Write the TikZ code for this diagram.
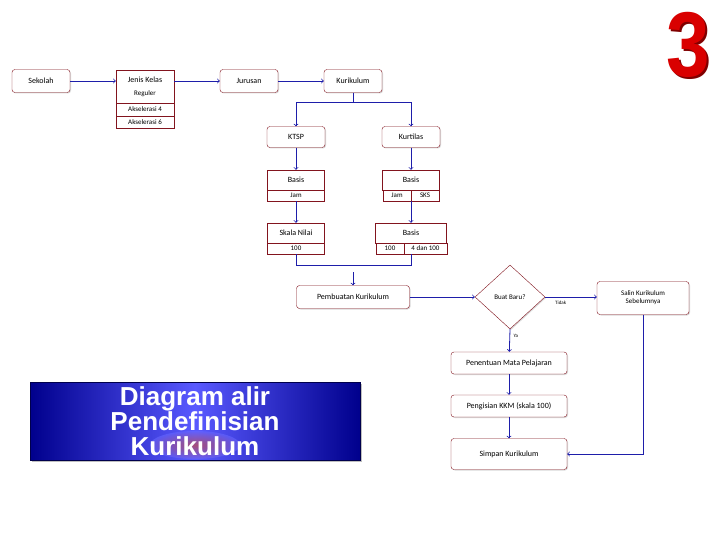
\documentclass[tikz,border=0pt]{standalone}
\usepackage{fontspec}
\setmainfont{Carlito}
\newfontfamily\headfont{Liberation Sans}
\usepackage{tikz}
\usetikzlibrary{shapes.geometric,shadows}
\definecolor{boxred}{RGB}{130,20,30}
\definecolor{flowblue}{RGB}{30,30,170}
\tikzset{flowbox/.style={draw=boxred, fill=white, rounded corners=3pt, minimum width=58pt, minimum height=23pt, inner sep=1pt, font=\footnotesize, drop shadow={shadow xshift=1pt, shadow yshift=-1pt, opacity=0.3}}}
\tikzset{cell/.style={draw=boxred, fill=white, inner sep=0pt, font=\scriptsize}}
\tikzset{flow/.style={draw=flowblue, thick, ->}}
\begin{document}
\begin{tikzpicture}[x=1pt, y=-1pt]
  \useasboundingbox (0,0) rectangle (720,540);

  % title
  \node[draw=blue!30!black, minimum width=330pt, minimum height=78pt, shading=axis, left color=blue!55!black, right color=blue!55!black, middle color=blue!65!white, drop shadow] at (195,421) (titlebox) {};
  \shade[inner color=red!45!brown, outer color=blue!60!white, opacity=0.6] (195,445) ellipse (45pt and 14pt);
  \node[text=white, font=\headfont\bfseries\fontsize{26}{25}\selectfont, align=center] at (195,421) (title) {Diagram alir\\Pendefinisian\\Kurikulum};
  \node[text=red!50!black, font=\headfont\bfseries\fontsize{92}{92}\selectfont, xscale=0.85] at (690,47) (numshadow) {3};
  \node[text=red!85!black, font=\headfont\bfseries\fontsize{92}{92}\selectfont, xscale=0.85] at (688,45) (num) {3};

  % top row
  \node[flowbox] at (41,81) (sekolah) {Sekolah};
  \node[cell, minimum width=58pt, minimum height=33pt, align=center, rounded corners=0pt] at (145,86.5) (jenis) {\footnotesize Jenis Kelas\\[5pt]Reguler};
  \node[cell, minimum width=58pt, minimum height=13pt] at (145,109.5) (aksel4) {Akselerasi 4};
  \node[cell, minimum width=58pt, minimum height=12pt] at (145,122) (aksel6) {Akselerasi 6};
  \node[flowbox] at (249,81) (jurusan) {Jurusan};
  \node[flowbox] at (353,81) (kurikulum) {Kurikulum};
  \draw[flow] (sekolah) -- (jenis.west |- sekolah);
  \draw[flow] (jenis.east |- sekolah) -- (jurusan);
  \draw[flow] (jurusan) -- (kurikulum);

  % KTSP branch
  \node[flowbox, minimum height=21pt] at (296,137) (ktsp) {KTSP};
  \node[cell, minimum width=57pt, minimum height=20pt] at (296,180) (basisA) {\footnotesize Basis};
  \node[cell, minimum width=57pt, minimum height=11pt] at (296,195.5) (jamA) {Jam};
  \node[cell, minimum width=57pt, minimum height=20pt] at (296,233) (skala) {\footnotesize Skala Nilai};
  \node[cell, minimum width=57pt, minimum height=11pt] at (296,248.5) (nilaiA) {100};

  % Kurtilas branch
  \node[flowbox, minimum height=21pt] at (411,137) (kurtilas) {Kurtilas};
  \node[cell, minimum width=57pt, minimum height=20pt] at (411,180) (basisB) {\footnotesize Basis};
  \node[cell, minimum width=28.5pt, minimum height=11pt] at (397,195.5) (jamB) {Jam};
  \node[cell, minimum width=28.5pt, minimum height=11pt] at (425,195.5) (sks) {SKS};
  \node[cell, minimum width=71pt, minimum height=20pt] at (411,233) (basisC) {\footnotesize Basis};
  \node[cell, minimum width=28pt, minimum height=11pt] at (390,248.5) (nilaiB) {100};
  \node[cell, minimum width=43pt, minimum height=11pt] at (425.5,248.5) (nilaiC) {4 dan 100};

  \draw[flow] (kurikulum.south) -- ++(0,10) -| (ktsp);
  \draw[flow] (kurikulum.south) -- ++(0,10) -| (kurtilas);
  \draw[flow] (ktsp) -- (basisA);
  \draw[flow] (jamA) -- (skala);
  \draw[flow] (kurtilas) -- (basisB);
  \draw[flow] (jamB.south -| basisB) -- (basisC);

  % making the curriculum
  \node[flowbox, minimum width=113pt] at (353,297) (buat) {Pembuatan Kurikulum};
  \draw[draw=flowblue, thick] (nilaiA) -- ++(0,17) -| (nilaiC.south -| basisC);
  \coordinate (merge) at (353,272);
  \draw[flow] (merge) -- (buat);
  \node[diamond, draw=boxred, fill=white, aspect=1.1, minimum width=70pt, minimum height=64pt, inner sep=0pt, font=\scriptsize, drop shadow={shadow xshift=1pt, shadow yshift=-1pt, opacity=0.3}] at (510,297) (baru) {Buat Baru?};
  \node[flowbox, minimum width=92pt, minimum height=33pt, align=center, font=\scriptsize] at (643,298) (salin) {Salin Kurikulum\\Sebelumnya};
  \node[flowbox, minimum width=116pt, minimum height=22pt] at (509,363) (mapel) {Penentuan Mata Pelajaran};
  \node[flowbox, minimum width=116pt, minimum height=22pt] at (509,406) (kkm) {Pengisian KKM (skala 100)};
  \node[flowbox, minimum width=116pt, minimum height=31pt] at (509,454) (simpan) {Simpan Kurikulum};
  \draw[flow] (buat) -- (baru);
  \draw[flow] (baru.east) -- node[below, font=\tiny, pos=0.3] {Tidak} (salin.west |- baru.east);
  \draw[flow] (baru.south) -- node[right, font=\tiny, pos=0.3] {Ya} (mapel);
  \draw[flow] (mapel) -- (kkm);
  \draw[flow] (kkm) -- (simpan);
  \draw[flow] (salin) |- (simpan);
\end{tikzpicture}
\end{document}
